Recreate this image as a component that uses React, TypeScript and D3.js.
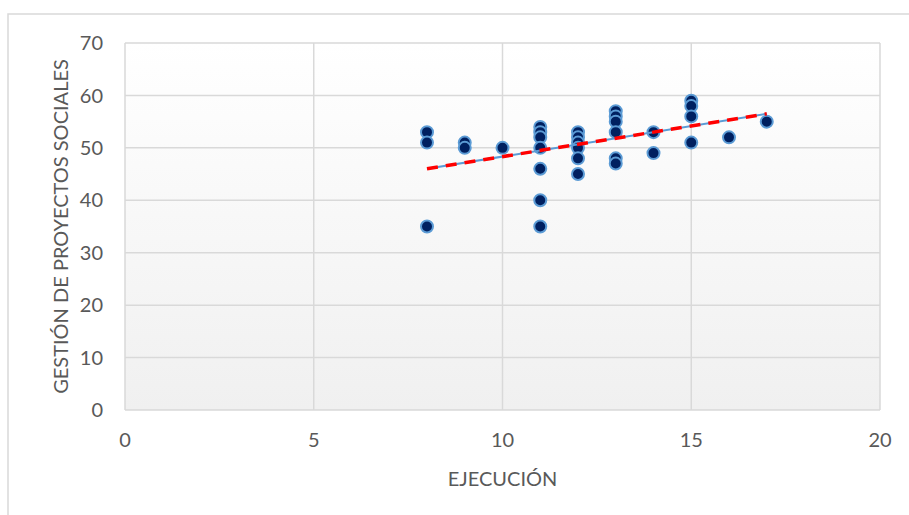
import React from "react";
import * as d3 from "d3";

const ejecucion = [8, 8, 8, 9, 9, 10, 11, 11, 11, 11, 11, 11, 11, 12, 12, 12, 12, 12, 12, 13, 13, 13, 13, 13, 13, 14, 14, 15, 15, 15, 15, 16, 17];
const gestion = [53, 51, 35, 51, 50, 50, 54, 53, 52, 50, 46, 40, 35, 53, 52, 51, 50, 48, 45, 57, 56, 55, 53, 48, 47, 53, 49, 59, 58, 56, 51, 52, 55];
const trendX = [8, 17];
const trendY = [46.0, 56.5];
const xTicks = [0, 5, 10, 15, 20];
const yTicks = [0, 10, 20, 30, 40, 50, 60, 70];
const xTitle = "EJECUCIÓN";
const yTitle = "GESTIÓN DE PROYECTOS SOCIALES";

export default function App() {
  const W = 909, H = 515;
  const left = 125, right = 880, top = 43, bottom = 410;
  const x = d3.scaleLinear().domain([0, 20]).range([left, right]);
  const y = d3.scaleLinear().domain([0, 70]).range([bottom, top]);
  const font = "Lato, 'Open Sans', sans-serif";
  const grid = "#d9d9d9";
  const line = d3.line<number>().x((_, i) => x(trendX[i])).y((d) => y(d));
  return (
    <svg width={W} height={H} style={{ position: "fixed", left: 0, top: 0 }}>
      <defs>
        <linearGradient id="bg" x1="0" y1="0" x2="0" y2="1">
          <stop offset="0" stopColor="#ffffff" />
          <stop offset="1" stopColor="#f0f0f0" />
        </linearGradient>
      </defs>
      <rect x={0} y={0} width={W} height={H} fill="#ffffff" />
      <rect x={8} y={14} width={W + 20} height={H + 20} fill="#ffffff" stroke={grid} strokeWidth={1.5} />
      <rect x={left} y={top} width={right - left} height={bottom - top} fill="url(#bg)" />
      {yTicks.map((t) => (
        <line key={"gy" + t} x1={left} x2={right} y1={y(t)} y2={y(t)} stroke={grid} strokeWidth={1.5} />
      ))}
      {xTicks.map((t) => (
        <line key={"gx" + t} x1={x(t)} x2={x(t)} y1={top} y2={bottom} stroke={grid} strokeWidth={1.5} />
      ))}
      {yTicks.map((t) => (
        <text key={"ty" + t} x={103} y={y(t)} dy="0.36em" textAnchor="end" fontFamily={font} fontSize={20} fill="#595959">
          {t}
        </text>
      ))}
      {xTicks.map((t) => (
        <text key={"tx" + t} x={x(t)} y={447} textAnchor="middle" fontFamily={font} fontSize={20} fill="#595959">
          {t}
        </text>
      ))}
      <text x={(left + right) / 2} y={486} textAnchor="middle" fontFamily={font} fontSize={20} fill="#595959">
        {xTitle}
      </text>
      <text
        transform={`translate(68,${(top + bottom) / 2}) rotate(-90)`}
        textAnchor="middle"
        fontFamily={font}
        fontSize={20}
        fill="#595959"
      >
        {yTitle}
      </text>
      {ejecucion.map((v, i) => (
        <circle key={"p" + i} cx={x(v)} cy={y(gestion[i])} r={6} fill="#002060" stroke="#5b9bd5" strokeWidth={2} />
      ))}
      <path d={line(trendY) || ""} fill="none" stroke="#5b9bd5" strokeWidth={2} />
      <path d={line(trendY) || ""} fill="none" stroke="#ff0000" strokeWidth={3.5} strokeDasharray="11 8" />
    </svg>
  );
}
